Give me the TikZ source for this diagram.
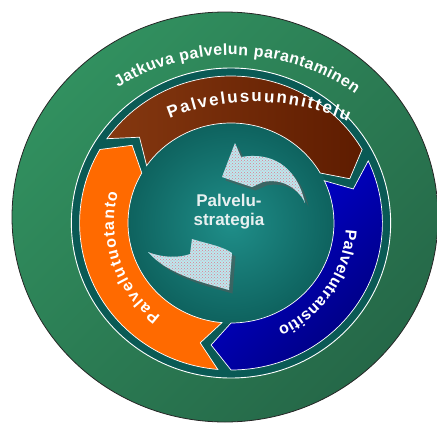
\documentclass[tikz,border=0pt]{standalone}
\usepackage{fontspec}
\setmainfont{Liberation Sans}
\usetikzlibrary{decorations.text, patterns}

\definecolor{outergreen}{HTML}{31905F}
\definecolor{outergreendark}{HTML}{256848}
\definecolor{ringteal}{HTML}{0A5A55}
\definecolor{coreteal}{HTML}{1F8E89}
\definecolor{coretealdark}{HTML}{0E625E}
\definecolor{planbrown}{HTML}{853810}
\definecolor{planbrowndark}{HTML}{5E1C00}
\definecolor{transblue}{HTML}{0000DC}
\definecolor{transbluedark}{HTML}{00007C}
\definecolor{prodorange}{HTML}{FF6A00}
\definecolor{swirlfill}{HTML}{BCE8EE}
\definecolor{swirldots}{HTML}{E07A8E}
\definecolor{corelabel}{HTML}{E8F0F0}

\newcommand{\bandfont}{\fontsize{16}{16}\selectfont\bfseries}
\newcommand{\bigbandfont}{\fontsize{17}{17}\selectfont\bfseries}
% one chevron of the ring: tail angle, head angle, looks
\newcommand{\bandarrow}[3]{%
  \path[#3] (#1:147) arc[start angle=#1, end angle=#2, radius=147]
    -- ({#2-9}:123.5) -- (#2:100) arc[start angle=#2, end angle=#1, radius=100]
    -- ({#1-9}:123.5) -- cycle;}
\newcommand{\upperswirl}{(235,-143) -- (241,-157)
  .. controls (270,-152) and (296,-164) .. (305,-203)
  .. controls (298,-188) and (282,-178) .. (263,-182) -- (252,-187) -- (222,-177) -- cycle}
\newcommand{\lowerswirl}{(148,-252) .. controls (163,-258) and (179,-258) .. (190,-254)
  -- (192,-239) .. controls (208,-244) and (222,-246) .. (232,-253)
  -- (229,-290) .. controls (205,-283) and (168,-275) .. (148,-252) -- cycle}

\begin{document}
\begin{tikzpicture}[x=1pt, y=1pt,
    bandtext/.style={decorate, decoration={text along path,
      text align=fit to path, text color=white, text={#1}}},
    swirlshadow/.style={fill=black!65, opacity=0.55, shift={(3.5,-3.5)}},
    swirlweave/.style={pattern=crosshatch dots, pattern color=swirldots}
    ]
  \useasboundingbox (0,0) rectangle (437,-426);

  % outer disc
  \shadedraw[left color=outergreen, right color=outergreendark, shading angle=45,
    draw=black!85, line width=0.8pt] (225,-217) ellipse[x radius=213, y radius=205];

  \begin{scope}[shift={(231,-223)}, xscale=1.03]
    \draw[white, line width=0.9pt, fill=ringteal] (0,0) circle[radius=155];
    \shade[inner color=coreteal, outer color=coretealdark] (0,0) circle[radius=101];
    \bandarrow{145}{30}{left color=planbrown, right color=planbrowndark, draw=white, line width=0.7pt}
    \bandarrow{25}{-90}{left color=transblue, right color=transbluedark, shading angle=45, draw=white, line width=0.7pt}
    \bandarrow{265}{150}{fill=prodorange, draw=white, line width=0.7pt}
  \end{scope}

  \path[shift={(232,-270)}, bandtext={|\bandfont|Jatkuva palvelun parantaminen}]
    (122:215) arc[start angle=122, end angle=55, radius=215];
  \path[shift={(255,-330)}, bandtext={|\bigbandfont|Palvelusuunnittelu}]
    (112:228) arc[start angle=112, end angle=66, radius=228];
  \path[shift={(231,-223)}, bandtext={|\bandfont|Palvelutransitio}]
    (-3:115) arc[start angle=-3, end angle=-66, radius=115];
  \path[shift={(231,-223)}, bandtext={|\bandfont|Palvelutuotanto}]
    (233:117) arc[start angle=233, end angle=165, radius=117];

  % centre swirls
  \fill[swirlshadow] \upperswirl;
  \fill[swirlfill] \upperswirl;
  \fill[swirlweave] \upperswirl;
  \fill[swirlshadow] \lowerswirl;
  \fill[swirlfill] \lowerswirl;
  \fill[swirlweave] \lowerswirl;

  \node[font=\fontsize{17}{19}\selectfont\bfseries, text=corelabel, align=center]
    (core) at (229,-212) {Palvelu-\\strategia};
\end{tikzpicture}
\end{document}
